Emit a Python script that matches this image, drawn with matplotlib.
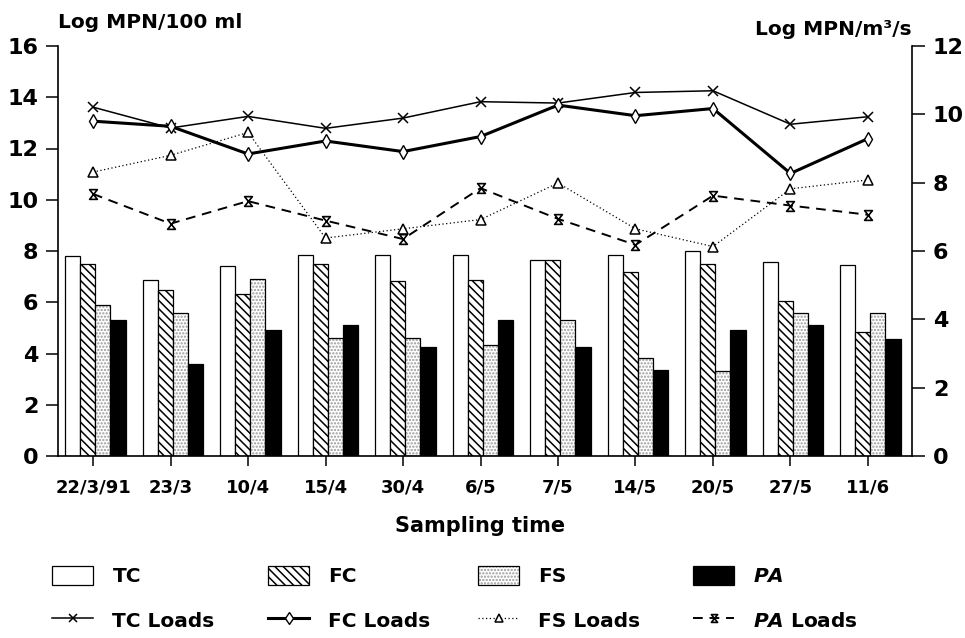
import numpy as np
import matplotlib
matplotlib.use('Agg')
import matplotlib.pyplot as plt
from matplotlib.patches import Patch
from matplotlib.path import Path
from matplotlib.legend_handler import HandlerTuple

# ---------------- data ----------------
dates = ['22/3/91', '23/3', '10/4', '15/4', '30/4', '6/5', '7/5', '14/5', '20/5', '27/5', '11/6']

# concentrations, Log MPN/100 ml (left axis)
TC = [7.82, 6.85, 7.43, 7.86, 7.84, 7.85, 7.65, 7.83, 7.99, 7.57, 7.47]
FC = [7.49, 6.48, 6.32, 7.49, 6.84, 6.87, 7.63, 7.20, 7.49, 6.06, 4.84]
FS = [5.91, 5.58, 6.92, 4.59, 4.59, 4.32, 5.32, 3.84, 3.32, 5.57, 5.57]
PA = [5.31, 3.59, 4.92, 5.12, 4.27, 5.32, 4.26, 3.35, 4.90, 5.12, 4.58]

# loads, Log MPN/m3/s (right axis)
TC_loads = [10.21, 9.60, 9.94, 9.59, 9.89, 10.37, 10.33, 10.64, 10.69, 9.71, 9.93]
FC_loads = [9.80, 9.65, 8.84, 9.22, 8.91, 9.35, 10.27, 9.96, 10.17, 8.27, 9.29]
FS_loads = [8.31, 8.80, 9.47, 6.38, 6.65, 6.92, 7.99, 6.65, 6.13, 7.82, 8.08]
PA_loads = [7.67, 6.80, 7.46, 6.89, 6.35, 7.84, 6.94, 6.18, 7.62, 7.33, 7.06]

left_ticks = [0, 2, 4, 6, 8, 10, 12, 14, 16]
right_ticks = [0, 2, 4, 6, 8, 10, 12]

# ---------------- style ----------------
plt.rcParams['font.family'] = ['DejaVu Sans']
plt.rcParams['font.weight'] = 'bold'
plt.rcParams['hatch.linewidth'] = 1.1
plt.rcParams['mathtext.fontset'] = 'custom'
plt.rcParams['mathtext.it'] = 'DejaVu Sans:italic:bold'
plt.rcParams['mathtext.rm'] = 'DejaVu Sans:bold'

fig = plt.figure(figsize=(9.65, 6.38), dpi=100)
ax = fig.add_axes([58 / 965, 1 - 456 / 638, 854 / 965, 410 / 638])

x = np.arange(len(dates))
w = 0.195
shift = 0.03
offs = np.array([-1.5, -0.5, 0.5, 1.5]) * w + shift

FC_HATCH = '\\\\\\\\'
FS_HATCH = '.....'
DOT_COLOR = '#9a9a9a'

ax.bar(x + offs[0], TC, w, facecolor='white', edgecolor='black', lw=0.9)
ax.bar(x + offs[1], FC, w, facecolor='white', edgecolor='black', hatch=FC_HATCH, lw=0.9)
ax.bar(x + offs[2], FS, w, facecolor='white', edgecolor=DOT_COLOR, hatch=FS_HATCH, lw=0)
ax.bar(x + offs[2], FS, w, fill=False, edgecolor='black', lw=0.9)
ax.bar(x + offs[3], PA, w, facecolor='black', edgecolor='black', lw=0.9)

ax.set_xlim(-0.452, 10.568)
ax.set_ylim(0, 16)
ax.set_yticks(left_ticks)
ax.set_xticks(x)
ax.set_xticklabels(dates)
ax.spines['top'].set_visible(False)
ax.spines['right'].set_visible(False)
for s in ('left', 'bottom'):
    ax.spines[s].set_linewidth(1.2)
ax.tick_params(axis='y', direction='out', length=9, width=1.1, labelsize=16, pad=5)
ax.tick_params(axis='x', direction='out', length=7, width=1.1, labelsize=13, pad=9)

ax2 = ax.twinx()
ax2.set_ylim(0, 12)
ax2.set_yticks(right_ticks)
for s in ('top', 'left', 'bottom'):
    ax2.spines[s].set_visible(False)
ax2.spines['right'].set_linewidth(1.2)
ax2.tick_params(axis='y', direction='out', length=9, width=1.1, labelsize=16, pad=6)

hourglass = Path([(-0.8, 1), (0.8, 1), (-0.8, -1), (0.8, -1), (-0.8, 1)],
                 [Path.MOVETO, Path.LINETO, Path.LINETO, Path.LINETO, Path.CLOSEPOLY])

l_tc, = ax2.plot(x, TC_loads, color='black', lw=1.1, marker='x', ms=7, mew=1.1)
l_fc, = ax2.plot(x, FC_loads, color='black', lw=2.2, marker='d', ms=7.5,
                 mfc='white', mec='black', mew=1.0)
l_fs, = ax2.plot(x, FS_loads, color='black', lw=0.9, ls=(0, (1, 2)), marker='^', ms=7.5,
                 mfc='white', mec='black', mew=1.1)
l_pa, = ax2.plot(x, PA_loads, color='black', lw=1.4, ls=(0, (5, 3.5)), marker=hourglass, ms=7,
                 mfc='white', mec='black', mew=1.2)

# ---------------- texts ----------------
fig.text(58 / 965, 1 - 28 / 638, 'Log MPN/100 ml', fontsize=14.5, ha='left', va='baseline')
fig.text(912 / 965, 1 - 35 / 638, 'Log MPN/m³/s', fontsize=14.5, ha='right', va='baseline')
fig.text(480 / 965, 1 - 526 / 638, 'Sampling time', fontsize=15, ha='center', va='center')

# ---------------- legend ----------------
h_tc = Patch(facecolor='white', edgecolor='black', lw=0.9)
h_fc = Patch(facecolor='white', edgecolor='black', hatch=FC_HATCH, lw=0.9)
h_fs = (Patch(facecolor='white', edgecolor=DOT_COLOR, hatch=FS_HATCH, lw=0),
        Patch(fill=False, edgecolor='black', lw=0.9))
h_pa = Patch(facecolor='black', edgecolor='black', lw=0.9)

columns = [
    (52 / 965, [h_tc, l_tc], ['TC', 'TC Loads']),
    (268 / 965, [h_fc, l_fc], ['FC', 'FC Loads']),
    (478 / 965, [h_fs, l_fs], ['FS', 'FS Loads']),
    (693 / 965, [h_pa, l_pa], [r'$\mathit{PA}$', r'$\mathit{PA}$ Loads']),
]
for xc, hs, ls in columns:
    fig.legend(hs, ls, loc='upper left', bbox_to_anchor=(xc, 1 - 566 / 638),
               frameon=False, fontsize=14.5, handlelength=2.05, handleheight=1.05,
               handletextpad=0.95, labelspacing=1.2, borderpad=0, borderaxespad=0,
               markerscale=0.8,
               handler_map={tuple: HandlerTuple(ndivide=1, pad=0)})

fig.savefig('out.png', dpi=100)
